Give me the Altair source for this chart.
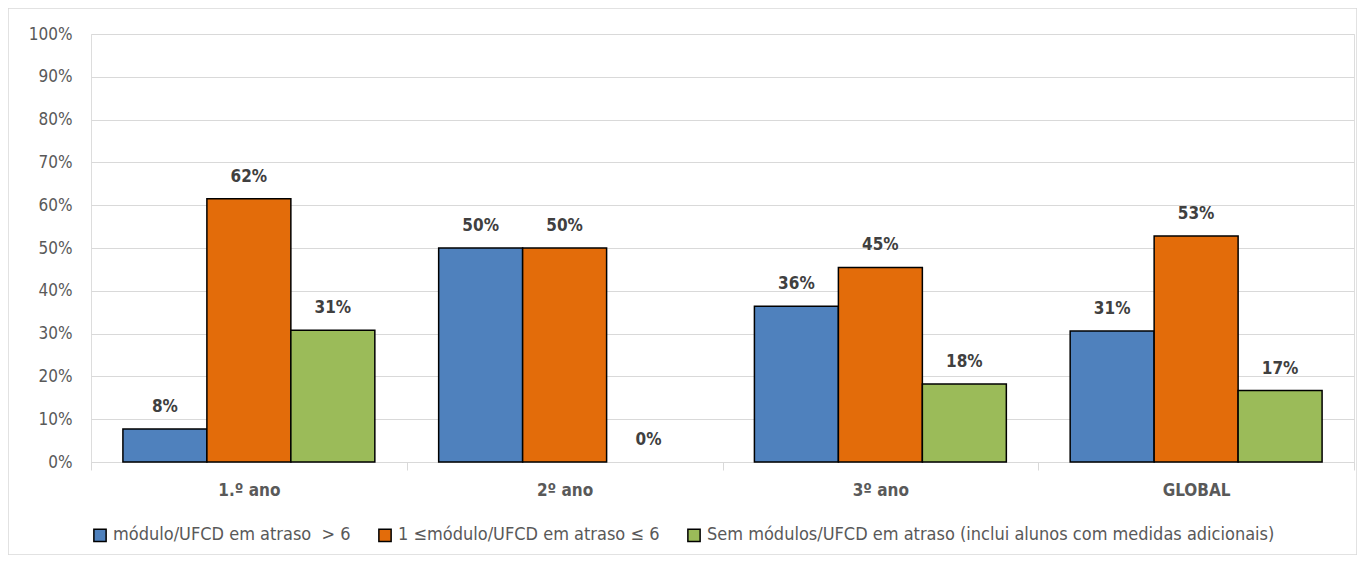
import altair as alt
import pandas as pd

categories = ["1.º ano", "2º ano", "3º ano", "GLOBAL"]
series = [
    "módulo/UFCD em atraso \u00a0> 6",
    "1 ≤módulo/UFCD em atraso ≤ 6",
    "Sem módulos/UFCD em atraso (inclui alunos com medidas adicionais)",
]
colors = ["#4f81bd", "#e36c0a", "#9bbb59"]
s1 = [0.077, 0.50, 0.364, 0.306]
s2 = [0.615, 0.50, 0.4545, 0.528]
s3 = [0.308, 0.0, 0.182, 0.167]

rows = []
for i, c in enumerate(categories):
    for name, vals in zip(series, [s1, s2, s3]):
        rows.append({"cat": c, "serie": name, "val": vals[i]})
df = pd.DataFrame(rows)

W, H = 1263, 428
FONT = "Liberation Sans Narrow, DejaVu Sans Condensed, sans-serif"

x = alt.X("cat:N", sort=categories, title=None,
          scale=alt.Scale(paddingInner=0, paddingOuter=0),
          axis=alt.Axis(labelAngle=0, labelFontWeight="bold", labelColor="#595959",
                        labelFontSize=17, labelFont=FONT, labelPadding=12,
                        domainColor="#d9d9d9", tickColor="#d9d9d9", tickSize=8,
                        tickBand="extent", grid=False))
xo = alt.XOffset("serie:N", sort=series,
                 scale=alt.Scale(paddingInner=0, paddingOuter=0.38))
y = alt.Y("val:Q", title=None,
          scale=alt.Scale(domain=[0, 1]),
          axis=alt.Axis(format=".0%", values=[i / 10 for i in range(11)],
                        labelColor="#595959", labelFontSize=17, labelFont=FONT,
                        domain=False, ticks=False, gridColor="#d9d9d9",
                        labelPadding=19))

bars = alt.Chart(df).mark_bar(stroke="black", strokeWidth=1.5).encode(
    x=x, xOffset=xo, y=y,
    strokeOpacity=alt.condition("datum.val > 0", alt.value(1), alt.value(0)),
    color=alt.Color("serie:N", sort=series,
                    scale=alt.Scale(domain=series, range=colors),
                    legend=alt.Legend(title=None, orient="bottom", direction="horizontal",
                                      symbolType="square", symbolSize=150,
                                      symbolStrokeColor="black", symbolStrokeWidth=1.5,
                                      labelFontSize=18, labelFont=FONT, labelColor="#595959",
                                      columnPadding=24, offset=28, labelLimit=800)),
)

labels = alt.Chart(df).mark_text(dy=-13, fontWeight="bold", fontSize=17,
                                 font=FONT, color="#404040", baseline="bottom").encode(
    x=alt.X("cat:N", sort=categories), xOffset=alt.XOffset("serie:N", sort=series),
    y="val:Q",
    text=alt.Text("val:Q", format=".0%"),
)

border = alt.Chart(pd.DataFrame({"a": [0]})).mark_rect(
    fill=None, stroke="#d9d9d9", strokeWidth=1.5).encode(
    x=alt.value(-83), x2=alt.value(W + 3), y=alt.value(-26), y2=alt.value(H + 93))

chart = alt.layer(bars, labels, border).properties(
    width=W, height=H,
    autosize=alt.AutoSizeParams(type="none"),
    padding={"left": 83, "top": 26, "right": 3, "bottom": 93},
).configure_view(strokeOpacity=0).configure(background="white")

chart.save("out.html", embed_options={"renderer": "svg", "actions": False})
